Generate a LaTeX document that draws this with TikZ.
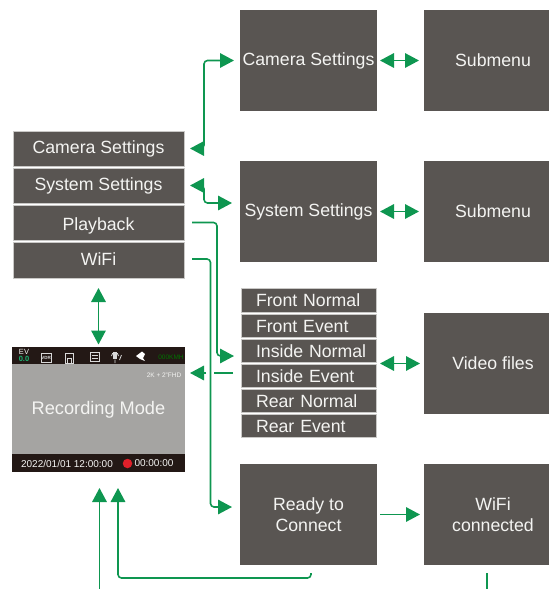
\documentclass[tikz,border=0pt]{standalone}
\usepackage{fontspec}
\setmainfont{Liberation Sans}
\usetikzlibrary{arrows.meta}
\definecolor{boxgray}{HTML}{595552}
\definecolor{edgegray}{HTML}{C9C8C6}
\definecolor{screengray}{HTML}{A5A4A2}
\definecolor{barblack}{HTML}{231815}
\definecolor{gr}{HTML}{0E9650}
\definecolor{txt}{HTML}{F4F4F2}
\definecolor{evgreen}{HTML}{1DB473}
\definecolor{recred}{HTML}{E0202A}
\tikzset{
 box/.style={fill=boxgray,text=txt,inner sep=0pt,outer sep=0pt,align=center},
 menuitem/.style={box,draw=edgegray,line width=.5pt,minimum width=171pt,font=\fontsize{17.7}{20}\selectfont,text height=13pt,text depth=4pt},
 bigbox/.style={box,minimum height=101pt,font=\fontsize{17.7}{21}\selectfont},
 wideb/.style={bigbox,minimum width=137pt},
 narrowb/.style={bigbox,minimum width=125pt},
 listitem/.style={box,draw=edgegray,line width=.5pt,minimum width=135pt,text width=135pt,align=left,font=\fontsize{17.7}{20}\selectfont,text height=14.5pt,text depth=1.5pt},
 conn/.style={draw=gr,line width=1.6pt,rounded corners=3.5pt},
 one/.style={conn,-{Triangle[length=14pt,width=14.5pt]}},
 two/.style={conn,{Triangle[length=14pt,width=14.5pt]}-{Triangle[length=14pt,width=14.5pt]}},
 plain/.style={conn},
 small/.style={inner sep=0pt,text=txt},
 icon/.style={draw=white!85!black,line width=.8pt},
}
\begin{document}
\begin{tikzpicture}[x=1pt,y=-1pt]
\useasboundingbox (0,0) rectangle (549,589);
% menu
\node[menuitem,minimum height=35pt] (mcam) at (98.5,148.5) {Camera Settings};
\node[menuitem,minimum height=35pt] (msys) at (98.5,185.5) {System Settings};
\node[menuitem,minimum height=35pt] (mplay) at (98.5,222.5) {\raisebox{-3pt}{Playback}};
\node[menuitem,minimum height=36pt] (mwifi) at (98.5,260) {\raisebox{-1pt}{WiFi}};
% big boxes
\node[wideb] (bcam) at (308.5,60.5) {Camera Settings};
\node[narrowb] (sub1) at (486.5,60.5) {\hspace*{13pt}Submenu};
\node[wideb] (bsys) at (308.5,211.5) {System Settings};
\node[narrowb] (sub2) at (486.5,211.5) {\hspace*{13pt}Submenu};
\node[narrowb] (video) at (486.5,363.5) {\hspace*{13pt}Video files};
\node[wideb] (ready) at (308.5,514.5) {Ready to\\Connect};
\node[narrowb] (conn) at (486.5,514.5) {\hspace*{13pt}WiFi\\\hspace*{13pt}connected};
% list
\node[listitem,minimum height=24pt] (l1) at (308.5,300) {\hspace*{15pt}Front Normal};
\node[listitem,minimum height=23pt] (l2) at (308.5,325.5) {\hspace*{15pt}Front Event};
\node[listitem,minimum height=23pt] (l3) at (308.5,350.5) {\hspace*{15pt}Inside Normal};
\node[listitem,minimum height=23pt] (l4) at (308.5,375.5) {\hspace*{15pt}Inside Event};
\node[listitem,minimum height=23pt] (l5) at (308.5,400.5) {\hspace*{15pt}Rear Normal};
\node[listitem,minimum height=23pt] (l6) at (308.5,425.5) {\hspace*{15pt}Rear Event};
% screen
\node[fill=screengray,inner sep=0pt,outer sep=0pt,minimum width=173pt,minimum height=125pt,text=txt,font=\fontsize{18.2}{20}\selectfont] (screen) at (98.5,409.5) {Recording Mode};
\fill[barblack] (12,347) rectangle (185,364);
\fill[barblack] (12,454) rectangle (185,472);
\node[small,font=\fontsize{7.5}{8}\selectfont] (ev) at (24,351.5) {EV};
\node[small,text=evgreen,font=\bfseries\fontsize{7.5}{8}\selectfont] (evv) at (24,358.5) {0.0};
\draw[icon] (41.5,353) rectangle (51,362);
\node[small,text=white!85!black,font=\bfseries\fontsize{4.5}{5}\selectfont] (vdr) at (46,357.5) {VDR};
\draw[icon] (65,353.5) rectangle (73,363);
\draw[icon] (67,358.5) rectangle (71,363);
\draw[icon] (90.5,352.5) rectangle (99.5,361);
\draw[icon] (92,355) -- (98,355) (92,358) -- (98,358);
\fill[white!85!black] (113,351.5) rectangle (117,358.5);
\draw[icon] (111.5,356) arc[start angle=180,end angle=360,radius=3.5] (115,359.5) -- (115,363);
\draw[icon] (119.5,360) -- (121.5,355);
\fill[white] (136,356) -- (142,351.5) -- (145,354) -- (143,358) -- (145,361) -- (140,359) -- cycle;
\node[small,text=green!45!black,font=\fontsize{6.5}{7}\selectfont] (kmh) at (171,357.5) {000KMH};
\node[small,font=\fontsize{6.5}{7}\selectfont] (res) at (164,375) {2K + 2"FHD};
\node[small,font=\fontsize{10}{11}\selectfont] (date) at (67,463.5) {2022/01/01 12:00:00};
\node[fill=recred,circle,inner sep=0pt,minimum size=9.5pt] (rec) at (127.5,463.5) {};
\node[small,font=\fontsize{10}{11}\selectfont] (time) at (154,463.5) {00:00:00};
% named free ends
\coordinate (gapR) at (214,373);
\coordinate (gapL) at (206,373);
\coordinate (lsrc) at (233,373);
\coordinate (in1) at (99.5,589);
\coordinate (rtail) at (311,573);
\coordinate (ctail) at (487,573);
\coordinate (cend) at (487,589);
% connectors
\draw[two] ([xshift=6pt]mcam.east) -- ++(14,0) |- ([xshift=-6pt]bcam.west);
\draw[two] ([xshift=6pt]msys.east) -- ++(14,0) |- ([xshift=-8pt,yshift=8.5pt]bsys.west);
\draw[one] ([xshift=8pt]mplay.east) -| (217,300) |- ([xshift=-7pt,yshift=-5.5pt]l3.west);
\draw[one] ([xshift=8pt,yshift=1pt]mwifi.east) -| (210.5,400) |- ([xshift=-8pt,yshift=7.5pt]ready.west);
\draw[two] ([yshift=-10pt]mwifi.south) -- ([yshift=2.5pt]screen.north);
\draw[plain] (lsrc) -- (gapR);
\draw[one] (gapL) -- ([xshift=5pt,yshift=36.5pt]screen.east);
\draw[two] ([xshift=3pt]bcam.east) -- ([xshift=-5pt]sub1.west);
\draw[two] ([xshift=3pt]bsys.east) -- ([xshift=-5pt]sub2.west);
\draw[two] ([xshift=4pt]l3.east |- video.west) -- ([xshift=-4pt]video.west);
\draw[one] ([xshift=3pt]ready.east) -- ([xshift=-4pt]conn.west);
\draw[one] (in1) -- ([xshift=1pt,yshift=-16pt]screen.south);
\draw[one] (rtail) |- (118,578) -- ([xshift=19.5pt,yshift=-16pt]screen.south);
\draw[plain] (ctail) -- (cend);
\end{tikzpicture}
\end{document}
